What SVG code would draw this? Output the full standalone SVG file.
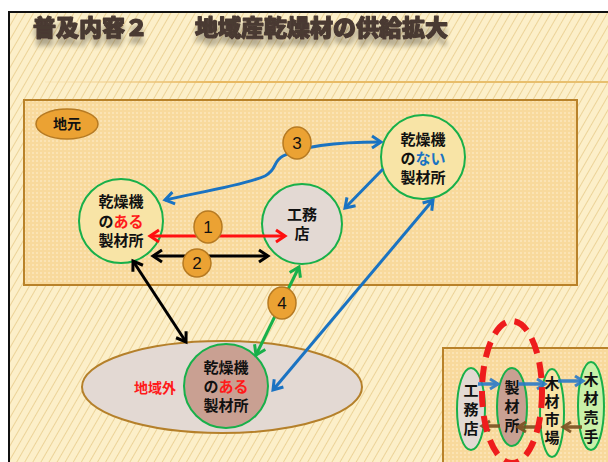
<svg xmlns="http://www.w3.org/2000/svg" width="608" height="462" viewBox="0 0 608 462">
<defs>
<pattern id="stripes" width="7" height="7" patternUnits="userSpaceOnUse" patternTransform="rotate(30)">
<rect width="7" height="7" fill="#fcefc9"/>
<line x1="0" y1="0" x2="0" y2="7" stroke="#ecd398" stroke-width="2"/>
</pattern>
<pattern id="grid" width="4" height="4" patternUnits="userSpaceOnUse">
<rect width="4" height="4" fill="#f8d99c"/>
<rect x="0" y="0" width="2" height="2" fill="#fbe3b4"/>
</pattern>
<linearGradient id="hl" x1="0" x2="1" y1="0" y2="0">
<stop offset="0" stop-color="#f2d49a" stop-opacity="0.2"/>
<stop offset="0.3" stop-color="#e8b860"/>
<stop offset="1" stop-color="#e8c070"/>
</linearGradient>
<filter id="shadow" x="-5%" y="-20%" width="110%" height="180%">
<feOffset in="SourceAlpha" dx="0" dy="7" result="o"/>
<feGaussianBlur in="o" stdDeviation="2.5" result="b"/>
<feComponentTransfer in="b" result="s"><feFuncA type="linear" slope="0.3"/></feComponentTransfer>
<feMerge><feMergeNode in="s"/><feMergeNode in="SourceGraphic"/></feMerge>
</filter>
<marker id="mRed" markerUnits="userSpaceOnUse" markerWidth="16" markerHeight="16" viewBox="0 0 16 16" refX="13" refY="8" orient="auto-start-reverse"><path d="M4,2 L13,8 L4,14" fill="none" stroke="#ff1010" stroke-width="3"/></marker>
<marker id="mBlack" markerUnits="userSpaceOnUse" markerWidth="16" markerHeight="16" viewBox="0 0 16 16" refX="13" refY="8" orient="auto-start-reverse"><path d="M4,2 L13,8 L4,14" fill="none" stroke="#000" stroke-width="3"/></marker>
<marker id="mBlue" markerUnits="userSpaceOnUse" markerWidth="16" markerHeight="16" viewBox="0 0 16 16" refX="13" refY="8" orient="auto-start-reverse"><path d="M4,2 L13,8 L4,14" fill="none" stroke="#1a73c2" stroke-width="3"/></marker>
<marker id="mGreen" markerUnits="userSpaceOnUse" markerWidth="16" markerHeight="16" viewBox="0 0 16 16" refX="13" refY="8" orient="auto-start-reverse"><path d="M4,2 L13,8 L4,14" fill="none" stroke="#18b04a" stroke-width="3"/></marker>
<marker id="mBlueS" markerUnits="userSpaceOnUse" markerWidth="14" markerHeight="14" viewBox="0 0 14 14" refX="11" refY="7" orient="auto"><path d="M3,2 L11,7 L3,12" fill="none" stroke="#2a7ac8" stroke-width="3"/></marker>
<marker id="mBrownS" markerUnits="userSpaceOnUse" markerWidth="14" markerHeight="14" viewBox="0 0 14 14" refX="11" refY="7" orient="auto"><path d="M3,2 L11,7 L3,12" fill="none" stroke="#7a5020" stroke-width="3"/></marker>
</defs>
<style>
text{font-family:"Noto Sans CJK JP","Noto Sans",sans-serif;}
.t{font-size:15px;font-weight:bold;fill:#111;text-anchor:middle;}
.v{font-size:15px;font-weight:bold;fill:#111;text-anchor:middle;writing-mode:vertical-rl;letter-spacing:4px;}
.num{font-family:"Liberation Sans","Noto Sans",sans-serif;font-size:17px;fill:#111;text-anchor:middle;}
.badge{fill:#eba233;stroke:#b67a22;stroke-width:1.5;}
.node{stroke:#18b04a;stroke-width:2;}
.cream{fill:#f8e4a6;}
.grey{fill:#e3d9d3;}
.brown{fill:#c9a092;}
.conn{fill:none;stroke-width:3;}
.title{font-size:23px;font-weight:900;fill:#4a3a33;stroke:#4a3a33;stroke-width:1.2;stroke-linejoin:round;}
</style>
<rect width="608" height="462" fill="#fff"/>
<rect x="9" y="12" width="620" height="470" fill="url(#stripes)" stroke="#111" stroke-width="2"/>
<g id="title" filter="url(#shadow)">
<text class="title" x="33" y="36">普及内容２</text>
<text class="title" x="195" y="36">地域産乾燥材の供給拡大</text>
</g>
<rect x="45" y="81" width="563" height="2" fill="url(#hl)"/>
<g id="jimoto-area">
<rect x="24" y="100" width="553" height="185" fill="url(#grid)" stroke="#b9822a" stroke-width="2"/>
<ellipse cx="67" cy="124" rx="31" ry="15" class="badge"/>
<text x="67" y="129" class="t" style="font-size:14px">地元</text>
</g>
<g id="outside-area">
<ellipse cx="222" cy="387" rx="140" ry="46" fill="#e3d9d3" stroke="#b5802a" stroke-width="2"/>
<text x="155" y="393" class="t" style="fill:#ff1a1a;font-size:14px">地域外</text>
</g>
<g id="node-yes">
<circle cx="121" cy="221" r="42" class="node cream"/>
<text x="121" y="207" class="t">乾燥機</text>
<text x="121" y="227" class="t">の<tspan fill="#ff1a1a">ある</tspan></text>
<text x="121" y="246" class="t">製材所</text>
</g>
<g id="node-koumuten">
<circle cx="302" cy="224" r="40" class="node grey"/>
<text x="302" y="220" class="t">工務</text>
<text x="302" y="239" class="t">店</text>
</g>
<g id="node-no">
<circle cx="423" cy="157" r="42" class="node cream"/>
<text x="423" y="145" class="t">乾燥機</text>
<text x="423" y="164" class="t">の<tspan fill="#1a73c2">ない</tspan></text>
<text x="423" y="183" class="t">製材所</text>
</g>
<g id="node-outside">
<circle cx="226" cy="386" r="42" class="node brown"/>
<text x="226" y="373" class="t">乾燥機</text>
<text x="226" y="392" class="t">の<tspan fill="#ff1a1a">ある</tspan></text>
<text x="226" y="411" class="t">製材所</text>
</g>
<g id="connectors">
<line x1="150" y1="236" x2="285" y2="236" class="conn" stroke="#ff1010" marker-start="url(#mRed)" marker-end="url(#mRed)"/>
<line x1="153" y1="256" x2="268" y2="256" class="conn" stroke="#000" marker-start="url(#mBlack)" marker-end="url(#mBlack)"/>
<line x1="133" y1="261" x2="186" y2="342" class="conn" stroke="#000" marker-start="url(#mBlack)" marker-end="url(#mBlack)"/>
<line x1="299" y1="267" x2="256" y2="355" class="conn" stroke="#18b04a" marker-start="url(#mGreen)" marker-end="url(#mGreen)"/>
<line x1="433" y1="200" x2="273" y2="390" class="conn" stroke="#1a73c2" marker-start="url(#mBlue)" marker-end="url(#mBlue)"/>
<line x1="383" y1="169" x2="345" y2="208" class="conn" stroke="#1a73c2" marker-end="url(#mBlue)"/>
<path d="M165,200 C195,193 245,185 265,176 C278,169 272,162 283,156 C300,147 330,142 381,142" class="conn" stroke="#1a73c2" marker-start="url(#mBlue)" marker-end="url(#mBlue)"/>
</g>
<g id="badge-1"><ellipse cx="208" cy="227" rx="14" ry="16" class="badge"/><text x="208" y="233" class="num">1</text></g>
<g id="badge-2"><ellipse cx="197" cy="263" rx="14" ry="14" class="badge"/><text x="197" y="269" class="num">2</text></g>
<g id="badge-3"><ellipse cx="297" cy="143" rx="14" ry="16" class="badge"/><text x="297" y="149" class="num">3</text></g>
<g id="badge-4"><ellipse cx="282" cy="303" rx="14" ry="16" class="badge"/><text x="282" y="309" class="num">4</text></g>
<g id="flow-box">
<rect x="443" y="348" width="180" height="130" fill="url(#grid)" stroke="#b9822a" stroke-width="2"/>
<g id="flow-koumuten">
<ellipse cx="471" cy="409" rx="14" ry="41" class="node grey"/>
<text x="471" y="411" class="v">工務店</text>
</g>
<g id="flow-seizaisho">
<ellipse cx="512" cy="407" rx="15" ry="39" class="node brown"/>
<text x="512" y="408" class="v">製材所</text>
</g>
<g id="flow-ichiba">
<ellipse cx="552" cy="413" rx="12" ry="44" class="node cream"/>
<text x="552" y="412" class="v" style="letter-spacing:3px">木材市場</text>
</g>
<g id="flow-urite">
<ellipse cx="591" cy="406" rx="13" ry="44" class="node" fill="#c9f0a8"/>
<text x="591" y="410" class="v">木材売手</text>
</g>
<g id="flow-connectors" stroke-width="3.5" fill="none" opacity="0.9">
<line x1="478" y1="384" x2="498" y2="384" stroke="#2a7ac8" marker-end="url(#mBlueS)"/>
<line x1="518" y1="384" x2="545" y2="384" stroke="#2a7ac8" marker-end="url(#mBlueS)"/>
<line x1="558" y1="381" x2="583" y2="381" stroke="#2a7ac8" marker-end="url(#mBlueS)"/>
<line x1="582" y1="427" x2="563" y2="427" stroke="#7a5020" marker-end="url(#mBrownS)"/>
<line x1="542" y1="427" x2="518" y2="427" stroke="#7a5020" marker-end="url(#mBrownS)"/>
<line x1="500" y1="426" x2="482" y2="426" stroke="#7a5020" marker-end="url(#mBrownS)"/>
</g>
<ellipse cx="512" cy="392" rx="30" ry="71" fill="none" stroke="#ee1c1c" stroke-width="6" stroke-dasharray="16 9"/>
</g>
</svg>
